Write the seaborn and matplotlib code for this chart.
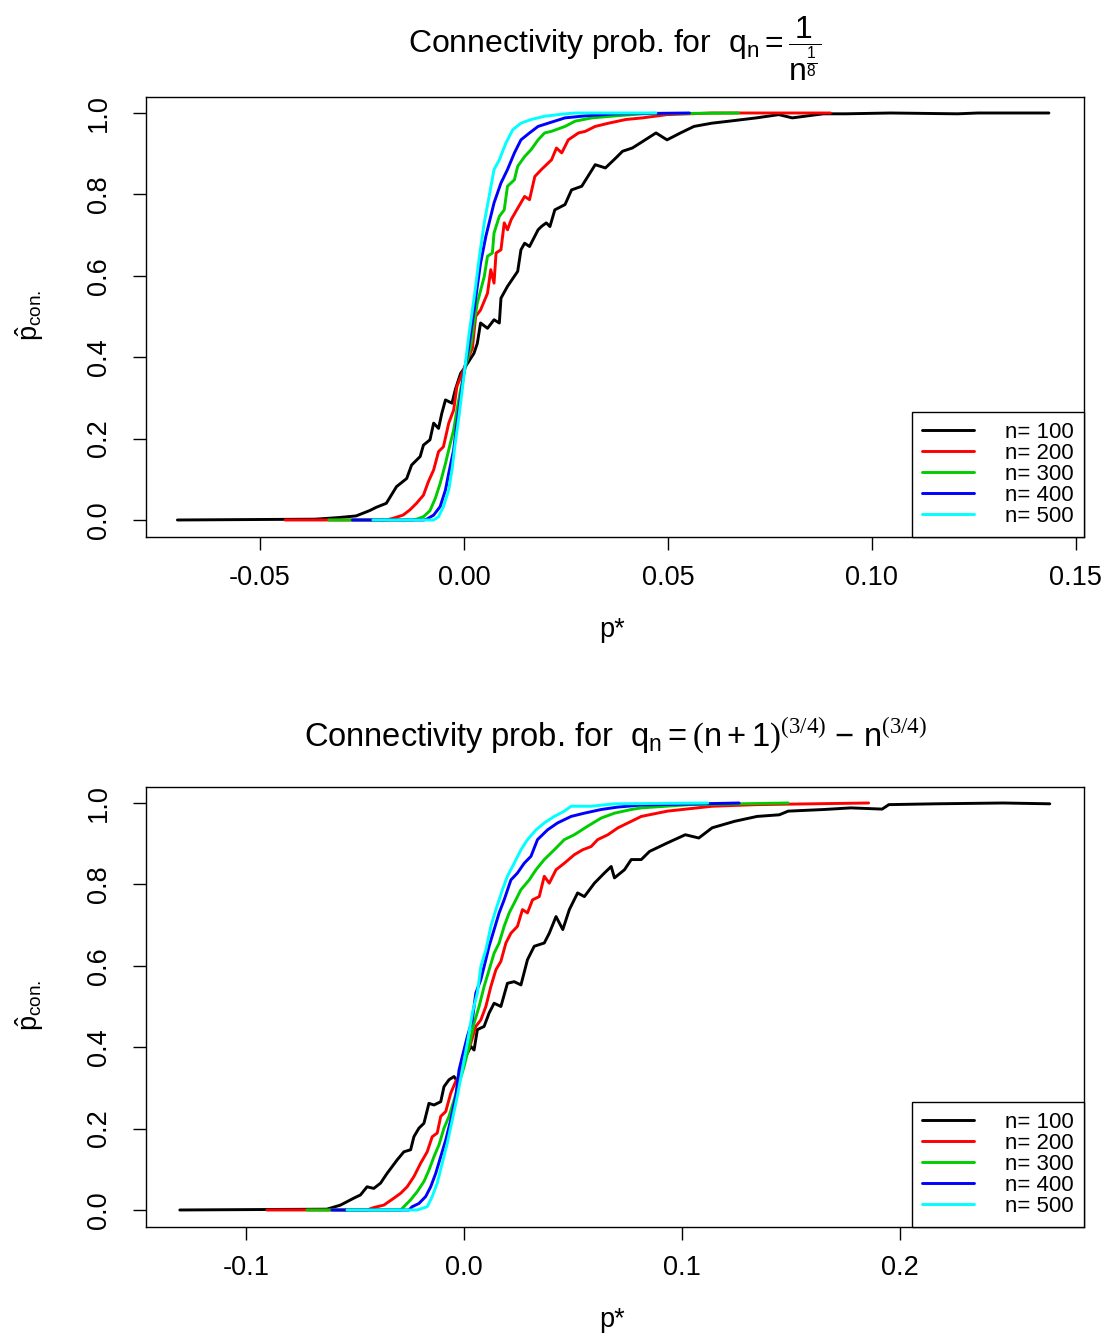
import numpy as np
import pandas as pd
import matplotlib
matplotlib.use("Agg")
import matplotlib.pyplot as plt
from matplotlib.lines import Line2D
import seaborn as sns

# ---------------- data ----------------
sizes = ["n= 100", "n= 200", "n= 300", "n= 400", "n= 500"]
colors = ["#000000", "#FF0000", "#00CD00", "#0000FF", "#00FFFF"]

top_n100 = [(-0.0702, 0), (-0.0364, 0.002), (-0.0306, 0.006), (-0.0264, 0.01), (-0.0231, 0.023),
            (-0.0215, 0.031), (-0.019, 0.041), (-0.0165, 0.082), (-0.014, 0.102), (-0.0128, 0.135),
            (-0.0107, 0.156), (-0.0099, 0.184), (-0.0083, 0.197), (-0.0074, 0.238), (-0.0062, 0.225),
            (-0.0054, 0.262), (-0.0045, 0.295), (-0.0029, 0.287), (-0.0021, 0.32), (-0.0008, 0.36),
            (0.0004, 0.377), (0.0025, 0.41), (0.0033, 0.434), (0.0041, 0.484), (0.0058, 0.471),
            (0.0074, 0.492), (0.0087, 0.484), (0.0091, 0.545), (0.0107, 0.574), (0.0132, 0.611),
            (0.014, 0.664), (0.0149, 0.68), (0.0161, 0.672), (0.0182, 0.713), (0.019, 0.721),
            (0.0202, 0.730), (0.0211, 0.721), (0.0223, 0.762), (0.0248, 0.775), (0.0264, 0.811),
            (0.0289, 0.82), (0.0322, 0.873), (0.0347, 0.865), (0.0372, 0.889), (0.0389, 0.906),
            (0.0413, 0.914), (0.0432, 0.926), (0.0471, 0.951), (0.0498, 0.934), (0.0531, 0.951),
            (0.0564, 0.967), (0.0608, 0.975), (0.0651, 0.98), (0.0717, 0.988), (0.0772, 0.996),
            (0.0805, 0.988), (0.0881, 0.998), (0.0936, 0.998), (0.1046, 1.0), (0.121, 0.998),
            (0.126, 1.0), (0.1434, 1.0)]
top_n200 = [(-0.0438, 0), (-0.019, 0), (-0.0174, 0.004), (-0.0149, 0.012), (-0.0132, 0.025),
            (-0.0116, 0.041), (-0.0099, 0.061), (-0.0087, 0.094), (-0.0074, 0.123), (-0.0062, 0.168),
            (-0.005, 0.18), (-0.0037, 0.238), (-0.0025, 0.27), (-0.0017, 0.328), (-0.0004, 0.36),
            (0.0008, 0.393), (0.0021, 0.422), (0.0029, 0.5), (0.0041, 0.516), (0.0058, 0.557),
            (0.0066, 0.615), (0.0074, 0.582), (0.0079, 0.656), (0.0091, 0.664), (0.0099, 0.73),
            (0.0107, 0.713), (0.0116, 0.738), (0.0132, 0.766), (0.0149, 0.795), (0.0161, 0.787),
            (0.0174, 0.844), (0.019, 0.861), (0.0215, 0.885), (0.0227, 0.914), (0.024, 0.902),
            (0.0256, 0.934), (0.0281, 0.951), (0.0298, 0.955), (0.0322, 0.967), (0.0355, 0.975),
            (0.0397, 0.984), (0.0438, 0.988), (0.0498, 0.996), (0.0608, 1.0), (0.0898, 1.0)]
top_n300 = [(-0.0331, 0), (-0.0125, 0), (-0.0116, 0.002), (-0.0099, 0.008), (-0.0083, 0.023),
            (-0.007, 0.053), (-0.0058, 0.09), (-0.0045, 0.139), (-0.0033, 0.189), (-0.0025, 0.221),
            (-0.0017, 0.27), (-0.0008, 0.32), (0.0004, 0.377), (0.0017, 0.426), (0.0025, 0.484),
            (0.0033, 0.533), (0.005, 0.598), (0.0058, 0.648), (0.007, 0.656), (0.0074, 0.705),
            (0.0087, 0.746), (0.0099, 0.762), (0.0107, 0.82), (0.0124, 0.836), (0.0132, 0.869),
            (0.0149, 0.893), (0.0165, 0.91), (0.0182, 0.934), (0.0198, 0.951), (0.0215, 0.955),
            (0.0248, 0.967), (0.0273, 0.98), (0.0314, 0.988), (0.0372, 0.993), (0.0438, 0.998),
            (0.0673, 1.0)]
top_n400 = [(-0.0273, 0), (-0.0098, 0), (-0.0091, 0.002), (-0.0074, 0.012), (-0.0058, 0.033),
            (-0.0045, 0.074), (-0.0037, 0.115), (-0.0025, 0.172), (-0.0017, 0.238), (-0.0008, 0.303),
            (0.0, 0.36), (0.0012, 0.426), (0.0025, 0.516), (0.0033, 0.574), (0.0041, 0.631),
            (0.0054, 0.697), (0.0062, 0.73), (0.0074, 0.779), (0.0091, 0.828), (0.0107, 0.861),
            (0.0124, 0.902), (0.014, 0.934), (0.0161, 0.951), (0.0182, 0.967), (0.0207, 0.975),
            (0.0248, 0.988), (0.0298, 0.993), (0.0372, 0.998), (0.0553, 1.0)]
top_n500 = [(-0.0223, 0), (-0.0074, 0), (-0.0062, 0.008), (-0.005, 0.033), (-0.0037, 0.074),
            (-0.0029, 0.123), (-0.0021, 0.189), (-0.0012, 0.254), (-0.0004, 0.32), (0.0004, 0.385),
            (0.0012, 0.451), (0.0021, 0.516), (0.0029, 0.574), (0.0037, 0.639), (0.005, 0.73),
            (0.0062, 0.795), (0.0074, 0.861), (0.0087, 0.885), (0.0103, 0.926), (0.012, 0.959),
            (0.014, 0.975), (0.0165, 0.984), (0.0198, 0.992), (0.024, 0.997), (0.0273, 1.0),
            (0.0471, 1.0)]

bot_n100 = [(-0.1304, 0), (-0.0629, 0.002), (-0.0567, 0.012), (-0.0506, 0.029), (-0.0475, 0.037),
            (-0.0445, 0.057), (-0.0414, 0.053), (-0.0383, 0.066), (-0.0353, 0.09), (-0.0307, 0.123),
            (-0.0276, 0.143), (-0.0245, 0.148), (-0.023, 0.18), (-0.0207, 0.201), (-0.0184, 0.213),
            (-0.0161, 0.262), (-0.0138, 0.258), (-0.0107, 0.266), (-0.0092, 0.303), (-0.0069, 0.32),
            (-0.0046, 0.328), (-0.0031, 0.316), (-0.0008, 0.344), (0.0008, 0.377), (0.0031, 0.402),
            (0.0046, 0.393), (0.0061, 0.443), (0.0092, 0.451), (0.0115, 0.484), (0.0138, 0.508),
            (0.0169, 0.5), (0.0199, 0.557), (0.023, 0.561), (0.0261, 0.553), (0.0291, 0.615),
            (0.0322, 0.648), (0.0368, 0.656), (0.0391, 0.68), (0.0422, 0.721), (0.0453, 0.689),
            (0.0483, 0.738), (0.0521, 0.779), (0.0552, 0.77), (0.0598, 0.803), (0.0644, 0.828),
            (0.0675, 0.844), (0.069, 0.816), (0.0736, 0.836), (0.0767, 0.861), (0.0813, 0.861),
            (0.0851, 0.881), (0.0933, 0.902), (0.1015, 0.922), (0.1077, 0.914), (0.1138, 0.939),
            (0.1241, 0.955), (0.1344, 0.967), (0.1446, 0.971), (0.1487, 0.98), (0.1651, 0.984),
            (0.1774, 0.988), (0.1918, 0.985), (0.1949, 0.996), (0.2164, 0.998), (0.2472, 1.0),
            (0.2687, 0.998)]
bot_n200 = [(-0.0905, 0), (-0.0445, 0), (-0.0414, 0.006), (-0.0368, 0.012), (-0.0322, 0.029),
            (-0.0291, 0.041), (-0.0261, 0.057), (-0.023, 0.082), (-0.0199, 0.115), (-0.0169, 0.143),
            (-0.0146, 0.18), (-0.0123, 0.189), (-0.0107, 0.23), (-0.0084, 0.242), (-0.0061, 0.287),
            (-0.0038, 0.316), (-0.0015, 0.336), (0.0008, 0.377), (0.0031, 0.41), (0.0054, 0.451),
            (0.0077, 0.467), (0.01, 0.5), (0.0123, 0.549), (0.0146, 0.59), (0.0169, 0.611),
            (0.0192, 0.656), (0.0215, 0.68), (0.0245, 0.697), (0.0268, 0.738), (0.0291, 0.73),
            (0.0314, 0.762), (0.0345, 0.77), (0.0368, 0.82), (0.0391, 0.803), (0.0422, 0.836),
            (0.046, 0.852), (0.0506, 0.873), (0.0544, 0.885), (0.0583, 0.893), (0.0613, 0.91),
            (0.066, 0.922), (0.0706, 0.939), (0.0752, 0.951), (0.0813, 0.967), (0.0933, 0.98),
            (0.1138, 0.992), (0.1344, 0.996), (0.1856, 1.0)]
bot_n300 = [(-0.0721, 0), (-0.0291, 0), (-0.0276, 0.008), (-0.0245, 0.025), (-0.0215, 0.045),
            (-0.0184, 0.07), (-0.0161, 0.098), (-0.0138, 0.131), (-0.0115, 0.16), (-0.0092, 0.201),
            (-0.0069, 0.23), (-0.0046, 0.27), (-0.0023, 0.311), (0.0, 0.352), (0.0023, 0.402),
            (0.0046, 0.459), (0.0069, 0.5), (0.0092, 0.549), (0.0115, 0.59), (0.0138, 0.631),
            (0.0161, 0.656), (0.0184, 0.697), (0.0207, 0.73), (0.023, 0.754), (0.0261, 0.787),
            (0.0299, 0.811), (0.033, 0.836), (0.0368, 0.861), (0.0414, 0.885), (0.046, 0.91),
            (0.0506, 0.922), (0.0567, 0.943), (0.0629, 0.963), (0.069, 0.975), (0.0767, 0.984),
            (0.0813, 0.988), (0.1036, 0.996), (0.1487, 1.0)]
bot_n400 = [(-0.0606, 0), (-0.0253, 0), (-0.0238, 0.008), (-0.0207, 0.016), (-0.0176, 0.033),
            (-0.0153, 0.057), (-0.013, 0.09), (-0.0107, 0.131), (-0.0084, 0.172), (-0.0061, 0.221),
            (-0.0038, 0.279), (-0.0023, 0.344), (-0.0008, 0.377), (0.0015, 0.426), (0.0038, 0.467),
            (0.0054, 0.533), (0.0077, 0.566), (0.0092, 0.598), (0.0115, 0.648), (0.0138, 0.689),
            (0.0161, 0.73), (0.0184, 0.762), (0.0215, 0.811), (0.0245, 0.828), (0.0276, 0.852),
            (0.0307, 0.869), (0.0337, 0.91), (0.0383, 0.934), (0.0429, 0.951), (0.0491, 0.967),
            (0.0552, 0.975), (0.0629, 0.984), (0.0706, 0.99), (0.0813, 0.995), (0.1262, 1.0)]
bot_n500 = [(-0.0537, 0), (-0.0215, 0), (-0.0192, 0.004), (-0.0169, 0.008), (-0.0146, 0.033),
            (-0.0123, 0.066), (-0.01, 0.115), (-0.0077, 0.164), (-0.0054, 0.221), (-0.0031, 0.279),
            (-0.0008, 0.344), (0.0015, 0.41), (0.0038, 0.484), (0.0061, 0.533), (0.0077, 0.598),
            (0.01, 0.639), (0.0123, 0.697), (0.0146, 0.738), (0.0176, 0.787), (0.0199, 0.82),
            (0.023, 0.852), (0.0261, 0.885), (0.0291, 0.91), (0.033, 0.934), (0.0368, 0.951),
            (0.0414, 0.967), (0.046, 0.98), (0.0491, 0.992), (0.0583, 0.992), (0.069, 0.998),
            (0.1118, 1.0)]

top_xticks = [-0.05, 0.00, 0.05, 0.10, 0.15]
top_xticklabels = ["-0.05", "0.00", "0.05", "0.10", "0.15"]
bot_xticks = [-0.1, 0.0, 0.1, 0.2]
bot_xticklabels = ["-0.1", "0.0", "0.1", "0.2"]
yticks = [0.0, 0.2, 0.4, 0.6, 0.8, 1.0]
yticklabels = ["0.0", "0.2", "0.4", "0.6", "0.8", "1.0"]

top_title = r"Connectivity prob. for  $\mathrm{q_n = \dfrac{1}{n^{\frac{1}{8}}}}$"
bot_title = (r"Connectivity prob. for  $\mathrm{q_n = }\mathsf{(}\mathrm{n+1}\mathsf{)}"
             r"^{\mathsf{(3/4)}}\ \mathrm{-\ n}^{\mathsf{(3/4)}}$")
xlabel = "p*"
ylabel = r"$\hat{\mathrm{p}}_{\mathrm{con.}}$"

# ---------------- style ----------------
sns.set_style("white")
plt.rcParams["font.family"] = ["Liberation Sans", "DejaVu Sans"]
plt.rcParams["mathtext.fontset"] = "custom"
plt.rcParams["mathtext.rm"] = "Liberation Sans"
plt.rcParams["mathtext.it"] = "Liberation Sans"
plt.rcParams["mathtext.sf"] = "Liberation Serif"
plt.rcParams["mathtext.bf"] = "Liberation Sans:bold"
plt.rcParams["axes.unicode_minus"] = False
plt.rcParams["text.color"] = "black"
plt.rcParams["xtick.color"] = "black"
plt.rcParams["ytick.color"] = "black"
plt.rcParams["axes.labelcolor"] = "black"


def to_frame(curves):
    rows = []
    for label, pts in zip(sizes, curves):
        for i, (x, y) in enumerate(pts):
            rows.append({"p": x, "prob": y, "n": label, "order": i})
    return pd.DataFrame(rows)


W, H = 1106, 1336
fig = plt.figure(figsize=(W / 100, H / 100), dpi=100)

panels = [
    dict(curves=[top_n100, top_n200, top_n300, top_n400, top_n500],
         box=(146, 97, 1084, 537), xlim=(-0.0779, 0.152),
         xt=top_xticks, xtl=top_xticklabels, title=top_title, title_y=53, tfs=23),
    dict(curves=[bot_n100, bot_n200, bot_n300, bot_n400, bot_n500],
         box=(146, 787, 1084, 1227), xlim=(-0.1459, 0.2844),
         xt=bot_xticks, xtl=bot_xticklabels, title=bot_title, title_y=746, tfs=23.5),
]

for pn in panels:
    l, t, r, b = pn["box"]
    ax = fig.add_axes([l / W, 1 - b / H, (r - l) / W, (b - t) / H])
    df = to_frame(pn["curves"])
    sns.lineplot(data=df, x="p", y="prob", hue="n", hue_order=sizes,
                 palette=colors, estimator=None, sort=False, units="n",
                 lw=2.1, legend=False, ax=ax)
    ax.set_xlim(*pn["xlim"])
    ax.set_ylim(-0.0418, 1.0393)
    ax.set_xticks(pn["xt"])
    ax.set_xticklabels(pn["xtl"], fontsize=19.5)
    ax.set_yticks(yticks)
    ax.set_yticklabels(yticklabels, fontsize=19.5, rotation=90, va="center")
    ax.tick_params(axis="both", direction="out", length=9.5, width=1.0,
                   color="black", labelcolor="black", bottom=True, left=True)
    ax.tick_params(axis="x", pad=11)
    ax.tick_params(axis="y", pad=15)
    for s in ax.spines.values():
        s.set_color("black")
        s.set_linewidth(1.0)
        s.set_visible(True)
    ax.set_xlabel("")
    ax.set_ylabel("")
    fig.text(612 / W, 1 - (b + 93) / H, xlabel, ha="center", va="center", fontsize=19.5)
    fig.text(30 / W, 1 - ((t + b) / 2 - 2) / H, ylabel, ha="center", va="center",
             rotation=90, fontsize=19.5)
    fig.text(615 / W, 1 - pn["title_y"] / H, pn["title"], ha="center", va="baseline",
             fontsize=pn["tfs"])
    handles = [Line2D([], [], color=c, lw=2.1) for c in colors]
    leg = ax.legend(handles, sizes, loc="lower right", bbox_to_anchor=(1, 0),
                    borderaxespad=0, fancybox=False, framealpha=1,
                    edgecolor="black", fontsize=16, handlelength=2.35,
                    handletextpad=1.4, labelspacing=0.0, borderpad=0.45)
    leg.get_frame().set_linewidth(1.0)

fig.savefig("out.png", dpi=100)
